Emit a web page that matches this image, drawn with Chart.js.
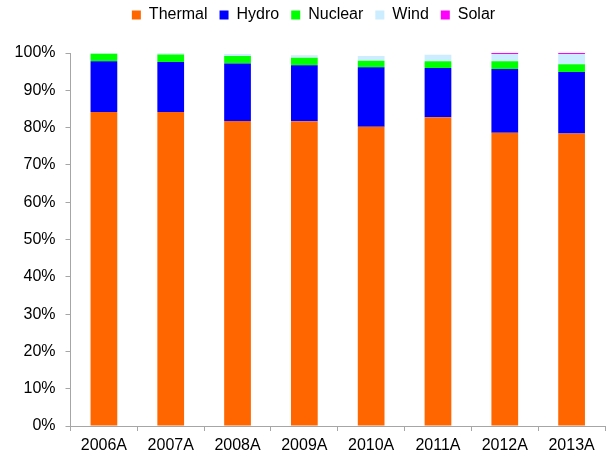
<!DOCTYPE html>
<html>
<head>
<meta charset="utf-8">
<script src="https://cdn.jsdelivr.net/npm/chart.js@4"></script>
<style>
  html, body { margin: 0; padding: 0; background: #fff; }
  #wrap { width: 609px; height: 459px; }
</style>
</head>
<body>
<div id="wrap"><canvas id="myChart" width="609" height="459"></canvas></div>
<script>
const labelsTahun = ['2006A', '2007A', '2008A', '2009A', '2010A', '2011A', '2012A', '2013A'];

const thermal = [84.2, 84.2, 81.8, 81.7, 80.2, 82.8, 78.6, 78.4];
const hydro   = [13.6, 13.4, 15.4, 15.0, 16.0, 13.2, 17.1, 16.5];
const nuclear = [2.0, 2.0, 2.0, 2.0, 1.7, 1.8, 2.1, 2.1];
const wind    = [0.1, 0.3, 0.5, 0.7, 1.3, 1.7, 1.9, 2.7];
const solar   = [0, 0, 0, 0, 0, 0, 0.3, 0.3];

const yTicks = [0, 10, 20, 30, 40, 50, 60, 70, 80, 90, 100];

const ctx = document.getElementById('myChart').getContext('2d');

const fontUtama = { family: "'Liberation Sans', Arial, sans-serif", size: 16 };
const warnaSumbu = '#a6a6a6';

function seri(label, data, warna) {
    return {
        label: label,
        data: data,
        backgroundColor: warna,
        borderWidth: 0,
        categoryPercentage: 1.0,
        barPercentage: 0.4
    };
}

// fix legend height so the plot area starts where the reference does,
// and nudge the legend a bit to the right like the original
const legendHeight = {
    id: 'legendHeight',
    beforeInit(chart) {
        const fitAsli = chart.legend.fit;
        chart.legend.fit = function () {
            fitAsli.bind(chart.legend)();
            this.height = 58;
        };
    },
    afterLayout(chart) {
        chart.legend.left += 11;
        chart.legend.right += 11;
    }
};

const config = {
    type: 'bar',
    data: {
        labels: labelsTahun,
        datasets: [
            seri('Thermal', thermal, '#ff6600'),
            seri('Hydro', hydro, '#0000ff'),
            seri('Nuclear', nuclear, '#00ff00'),
            seri('Wind', wind, '#ccecff'),
            seri('Solar', solar, '#ff00ff')
        ]
    },
    options: {
        responsive: false,
        animation: false,
        layout: { padding: { left: 0, right: 4, top: -5, bottom: 0 } },
        scales: {
            x: {
                stacked: true,
                offset: true,
                border: { color: warnaSumbu, width: 1 },
                grid: { drawOnChartArea: false, color: warnaSumbu, tickLength: 5, offset: true },
                ticks: { color: '#000', font: fontUtama, padding: 5, maxRotation: 0 },
                afterFit(scale) { scale.height = 33; }
            },
            y: {
                stacked: true,
                min: 0,
                max: 100,
                afterBuildTicks(scale) {
                    scale.ticks = yTicks.map(v => ({ value: v }));
                },
                border: { color: warnaSumbu, width: 1 },
                grid: { drawOnChartArea: false, color: warnaSumbu, tickLength: 5 },
                ticks: {
                    color: '#000',
                    font: fontUtama,
                    padding: 10,
                    callback: v => v + '%'
                },
                afterFit(scale) { scale.width = 70.5; }
            }
        },
        plugins: {
            legend: {
                display: true,
                position: 'top',
                labels: {
                    color: '#000',
                    font: fontUtama,
                    boxWidth: 9,
                    boxHeight: 9,
                    padding: 12
                }
            },
            tooltip: { enabled: false }
        }
    },
    plugins: [legendHeight]
};

const myChart = new Chart(ctx, config);
</script>
</body>
</html>
